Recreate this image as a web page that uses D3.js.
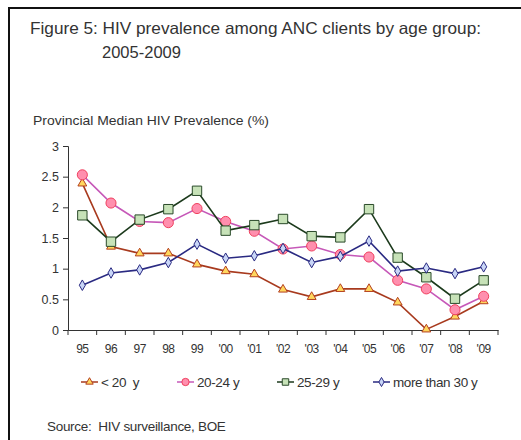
<!DOCTYPE html>
<html><head><meta charset="utf-8">
<script src="https://cdn.jsdelivr.net/npm/d3@7"></script>
<style>body{margin:0;background:#fff}svg{display:block;font-family:"Liberation Sans",Arial,sans-serif}text{white-space:pre}</style>
</head><body>
<svg id="c" width="521" height="440"></svg>
<script>
const categories = ["95","96","97","98","99","'00","'01","'02","'03","'04","'05","'06","'07","'08","'09"];
const under20 = [2.39,1.36,1.25,1.25,1.07,0.96,0.91,0.66,0.54,0.67,0.67,0.45,0.01,0.22,0.47];
const age20_24 = [2.53,2.07,1.77,1.75,1.98,1.77,1.61,1.32,1.37,1.23,1.19,0.81,0.67,0.33,0.55];
const age25_29 = [1.87,1.44,1.80,1.97,2.27,1.62,1.71,1.81,1.53,1.51,1.97,1.18,0.86,0.51,0.81];
const over30 = [0.73,0.93,0.98,1.10,1.40,1.17,1.21,1.33,1.10,1.20,1.45,0.96,1.01,0.92,1.03];
const yTicks = [0,0.5,1,1.5,2,2.5,3];
const seriesNames = ["< 20  y","20-24 y","25-29 y","more than 30 y"];

const series = [
  {name:seriesNames[0], values:under20, line:"#a83a1e", fill:"#ffd75e", stroke:"#b5401e", sym:d3.symbolTriangle, size:34, lsize:24},
  {name:seriesNames[1], values:age20_24, line:"#c658b8", fill:"#ff8fae", stroke:"#f0405e", sym:d3.symbolCircle, size:80, lsize:42},
  {name:seriesNames[2], values:age25_29, line:"#1c3a1c", fill:"#c7e2b8", stroke:"#2a4a2a", sym:d3.symbolSquare, size:88, lsize:42},
  {name:seriesNames[3], values:over30, line:"#2a2a82", fill:"#c9d6f7", stroke:"#2a2a82", sym:d3.symbolDiamond, size:32, lsize:24}
];

const svg = d3.select("#c");
svg.append("path").attr("d","M9,525 L9,8 L530,8").attr("fill","none").attr("stroke","#111").attr("stroke-width",2);

svg.append("text").attr("x",30).attr("y",34).attr("font-size",16.5).attr("fill","#333")
  .attr("textLength",451).attr("lengthAdjust","spacingAndGlyphs")
  .text("Figure 5: HIV prevalence among ANC clients by age group:");
svg.append("text").attr("x",102).attr("y",58).attr("font-size",16.5).attr("fill","#333")
  .text("2005-2009");

svg.append("text").attr("x",33).attr("y",125).attr("font-size",13.5).attr("fill","#333")
  .attr("textLength",236).attr("lengthAdjust","spacingAndGlyphs")
  .text("Provincial Median HIV Prevalence (%)");

const x = d3.scaleBand().domain(categories).range([68,498]);
const y = d3.scaleLinear().domain([0,3]).range([330,146]);

const yAxis = svg.append("g").attr("transform","translate(68,0)")
  .call(d3.axisLeft(y).tickValues(yTicks).tickFormat(d3.format("")).tickSize(5).tickPadding(4));
yAxis.select(".domain").attr("stroke","#333");
yAxis.selectAll(".tick line").attr("stroke","#333");
yAxis.selectAll("text").attr("font-size",12.5).attr("fill","#333").attr("font-family","Liberation Sans, Arial, sans-serif");

const xAxis = svg.append("g").attr("transform","translate(0,330)")
  .call(d3.axisBottom(x).tickSize(0).tickPadding(14));
xAxis.select(".domain").attr("stroke","#333");
xAxis.selectAll("text").attr("font-size",12).attr("fill","#333").attr("font-family","Liberation Sans, Arial, sans-serif").attr("letter-spacing","-0.5");
const bounds = categories.map(c=>x(c)).concat([x.range()[1]]);
svg.append("g").selectAll("line").data(bounds).join("line")
  .attr("x1",d=>d).attr("x2",d=>d).attr("y1",330).attr("y2",335).attr("stroke","#333");

const line = d3.line().x((d,i)=>x(categories[i])+x.bandwidth()/2).y(d=>y(d));
series.forEach(s=>{
  svg.append("path").attr("d",line(s.values)).attr("fill","none").attr("stroke",s.line).attr("stroke-width",1.6);
  svg.append("g").selectAll("path").data(s.values).join("path")
    .attr("transform",(d,i)=>`translate(${x(categories[i])+x.bandwidth()/2},${y(d)})`)
    .attr("d",d3.symbol(s.sym,s.size)).attr("fill",s.fill).attr("stroke",s.stroke).attr("stroke-width",1);
});

const legX = [81,177,277,373];
series.forEach((s,i)=>{
  const g = svg.append("g").attr("transform",`translate(${legX[i]},382)`);
  g.append("line").attr("x1",0).attr("x2",17).attr("y1",0).attr("y2",0).attr("stroke",s.line).attr("stroke-width",1.5);
  g.append("path").attr("transform","translate(8.5,0)").attr("d",d3.symbol(s.sym,s.lsize)).attr("fill",s.fill).attr("stroke",s.stroke).attr("stroke-width",1);
  g.append("text").attr("x",20).attr("y",5).attr("font-size",13.5).attr("fill","#333").attr("letter-spacing","-0.4").text(s.name);
});

svg.append("text").attr("x",47).attr("y",431).attr("font-size",13.5).attr("fill","#333").attr("letter-spacing","-0.3")
  .text("Source:  HIV surveillance, BOE");
</script>
</body></html>
